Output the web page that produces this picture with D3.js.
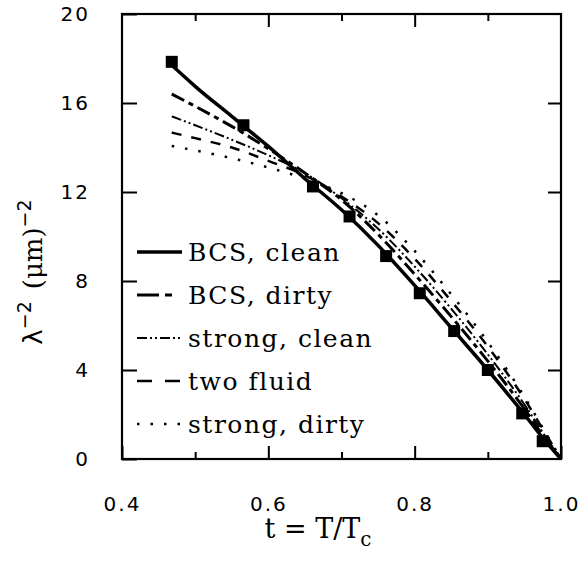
<!DOCTYPE html>
<html>
<head>
<meta charset="utf-8">
<script src="https://cdn.jsdelivr.net/npm/d3@7"></script>
<style>
  body { margin: 0; background: #fff; }
  svg { display: block; }
</style>
</head>
<body>
<div id="chart"></div>
<script>
// reduced temperature grid for the model curves
var tGrid = [0.468, 0.5, 0.55, 0.6, 0.65, 0.7, 0.75, 0.8, 0.85, 0.9, 0.95, 0.975, 1.0];

var bcsClean    = [17.7, 16.75, 15.4, 14.05, 12.6, 11.2, 9.6, 7.8, 5.9, 4.0, 2.0, 0.95, 0];
var bcsDirty    = [16.4, 15.85, 14.95, 13.95, 12.85, 11.65, 10.1, 8.3, 6.4, 4.4, 2.25, 1.07, 0];
var strongClean = [15.4, 15.0, 14.35, 13.65, 12.85, 11.72, 10.35, 8.65, 6.75, 4.7, 2.45, 1.2, 0];
var twoFluid    = [14.67, 14.42, 14.0, 13.4, 12.75, 11.8, 10.6, 9.0, 7.1, 5.05, 2.7, 1.35, 0];
var strongDirty = [14.07, 13.87, 13.52, 13.1, 12.6, 11.95, 10.95, 9.35, 7.4, 5.25, 2.8, 1.4, 0];

// measured points (squares)
var dataT   = [0.468, 0.566, 0.661, 0.711, 0.761, 0.807, 0.854, 0.900, 0.947, 0.975];
var dataLam = [17.85, 15.0, 12.25, 10.9, 9.12, 7.45, 5.75, 4.0, 2.05, 0.8];

var seriesNames = ["BCS, clean", "BCS, dirty", "strong, clean", "two fluid", "strong, dirty"];
var xTicks = [0.4, 0.6, 0.8, 1.0];
var xMinor = [0.5, 0.7, 0.9];
var yTicks = [0, 4, 8, 12, 16, 20];

var W = 587, H = 562;
var margin = { top: 14, right: 26, bottom: 103, left: 122 };
var width = W - margin.left - margin.right;
var height = H - margin.top - margin.bottom;

var svg = d3.select("#chart").append("svg")
  .attr("width", W)
  .attr("height", H);

var g = svg.append("g")
  .attr("transform", `translate(${margin.left}, ${margin.top})`);

var x = d3.scaleLinear().domain([0.4, 1.0]).range([0, width]);
var y = d3.scaleLinear().domain([0, 20]).range([height, 0]);

// frame
g.append("rect")
  .attr("width", width)
  .attr("height", height)
  .attr("fill", "none")
  .attr("stroke", "#000")
  .attr("stroke-width", 2.2);

// bottom axis (labels + inward major ticks)
var xAxis = g.append("g")
  .attr("transform", `translate(0, ${height})`)
  .call(d3.axisBottom(x).tickValues(xTicks).tickFormat(d3.format(".1f"))
    .tickSizeInner(-13).tickSizeOuter(0).tickPadding(38));
xAxis.select(".domain").remove();
xAxis.selectAll("line").attr("stroke-width", 2);
xAxis.selectAll("text")
  .attr("font-family", "DejaVu Sans")
  .attr("font-size", 20)
  .attr("letter-spacing", 2)
  .attr("fill", "#000");

var xMinorAxis = g.append("g")
  .attr("transform", `translate(0, ${height})`)
  .call(d3.axisBottom(x).tickValues(xMinor).tickFormat("").tickSizeInner(-7).tickSizeOuter(0));
xMinorAxis.select(".domain").remove();
xMinorAxis.selectAll("line").attr("stroke-width", 2);

// top ticks
var xTop = g.append("g")
  .call(d3.axisTop(x).tickValues([0.6, 0.8]).tickFormat("").tickSizeInner(-13).tickSizeOuter(0));
xTop.select(".domain").remove();
xTop.selectAll("line").attr("stroke-width", 2);
var xTopMinor = g.append("g")
  .call(d3.axisTop(x).tickValues(xMinor).tickFormat("").tickSizeInner(-7).tickSizeOuter(0));
xTopMinor.select(".domain").remove();
xTopMinor.selectAll("line").attr("stroke-width", 2);

// left axis
var yAxis = g.append("g")
  .call(d3.axisLeft(y).tickValues(yTicks).tickFormat(d3.format("d"))
    .tickSizeInner(-15).tickSizeOuter(0).tickPadding(32));
yAxis.select(".domain").remove();
yAxis.selectAll("line").attr("stroke-width", 2);
yAxis.selectAll("text")
  .attr("font-family", "DejaVu Sans")
  .attr("font-size", 20)
  .attr("letter-spacing", 2)
  .attr("fill", "#000");

// right ticks
var yRight = g.append("g")
  .attr("transform", `translate(${width}, 0)`)
  .call(d3.axisRight(y).tickValues([4, 8, 12, 16]).tickFormat("").tickSizeInner(-13).tickSizeOuter(0));
yRight.select(".domain").remove();
yRight.selectAll("line").attr("stroke-width", 2);

// curves
var styles = [
  { dash: null, w: 3.5 },
  { dash: "14,5,5,5", w: 3 },
  { dash: "10,3,2,3,2,3", w: 2 },
  { dash: "10,10", w: 2.5 },
  { dash: "2.5,11", w: 2.5 }
];
var legendDash = [null, "22,6,7,20", "10,3,2,3,2,3", "15,13", "2.5,11"];
var allSeries = [bcsClean, bcsDirty, strongClean, twoFluid, strongDirty];

var line = d3.line()
  .x(d => x(d[0]))
  .y(d => y(d[1]))
  .curve(d3.curveMonotoneX);

allSeries.forEach(function(vals, i) {
  g.append("path")
    .datum(tGrid.map((t, j) => [t, vals[j]]))
    .attr("d", line)
    .attr("fill", "none")
    .attr("stroke", "#000")
    .attr("stroke-width", styles[i].w)
    .attr("stroke-dasharray", styles[i].dash);
});

// squares
var sq = 12;
g.selectAll("rect.pt")
  .data(dataT.map((t, i) => [t, dataLam[i]]))
  .enter()
  .append("rect")
  .attr("class", "pt")
  .attr("x", d => x(d[0]) - sq / 2)
  .attr("y", d => y(d[1]) - sq / 2)
  .attr("width", sq)
  .attr("height", sq)
  .attr("fill", "#000");

// legend
var legend = g.append("g").attr("transform", "translate(15, 238)");
seriesNames.forEach(function(name, i) {
  var ly = i * 43;
  legend.append("line")
    .attr("x1", 0).attr("x2", 45)
    .attr("y1", ly).attr("y2", ly)
    .attr("stroke", "#000")
    .attr("stroke-width", styles[i].w)
    .attr("stroke-dasharray", legendDash[i]);
  legend.append("text")
    .attr("x", 51)
    .attr("y", ly)
    .attr("dy", "0.35em")
    .attr("font-family", "DejaVu Serif")
    .attr("font-size", 25)
    .attr("letter-spacing", 1.5)
    .text(name);
});

// axis titles
var xt = svg.append("text")
  .attr("x", 318)
  .attr("y", 538)
  .attr("text-anchor", "middle")
  .attr("font-family", "DejaVu Serif")
  .attr("font-size", 27);
xt.append("tspan").text("t = T/T");
xt.append("tspan").attr("font-size", 20).attr("dy", 8).text("c");

var yt = svg.append("text")
  .attr("transform", "translate(42, 272) rotate(-90)")
  .attr("text-anchor", "middle")
  .attr("font-family", "DejaVu Sans")
  .attr("font-size", 26);
yt.append("tspan").text("λ");
yt.append("tspan").attr("font-size", 19).attr("dy", -11).text("−2");
yt.append("tspan").attr("dy", 11).attr("dx", 12).attr("font-family", "DejaVu Serif").text("(μm)");
yt.append("tspan").attr("font-size", 19).attr("dy", -11).text("−2");
</script>
</body>
</html>
